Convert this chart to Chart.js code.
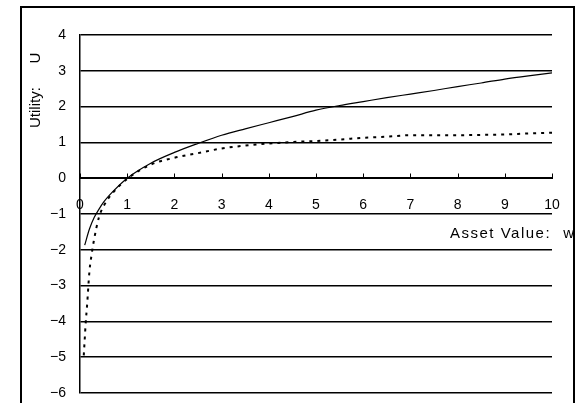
<!DOCTYPE html>
<html>
<head>
<meta charset="utf-8">
<script src="https://cdn.jsdelivr.net/npm/chart.js@4"></script>
<style>
  html, body { margin: 0; padding: 0; background: #fff; }
  #wrap { width: 583px; height: 403px; }
</style>
</head>
<body>
<div id="wrap"><canvas id="utilityChart" width="583" height="403"></canvas></div>
<script>
// Asset value w and utility readings for the two curves
const wSolid = [0.1, 0.2, 0.3, 0.4, 0.5, 0.7, 1, 1.5, 2, 2.5, 3, 3.5, 4, 4.5, 5, 5.5, 6, 6.5, 7, 7.5, 8, 8.5, 9, 9.5, 10];
const uSolid = [-1.87, -1.42, -1.1, -0.87, -0.67, -0.37, 0, 0.42, 0.72, 0.97, 1.2, 1.38, 1.55, 1.72, 1.9, 2.03, 2.14, 2.25, 2.35, 2.45, 2.56, 2.66, 2.77, 2.86, 2.94];

const wDotted = [0.08, 0.1, 0.12, 0.15, 0.2, 0.25, 0.3, 0.4, 0.5, 0.7, 1, 1.5, 2, 2.5, 3, 3.5, 4, 4.5, 5, 5.5, 6, 6.5, 7, 7.5, 8, 8.5, 9, 9.5, 10];
const uDotted = [-4.95, -4.5, -4.05, -3.55, -2.6, -2.1, -1.7, -1.1, -0.78, -0.4, -0.02, 0.38, 0.57, 0.7, 0.83, 0.91, 0.97, 1.01, 1.04, 1.08, 1.13, 1.16, 1.2, 1.2, 1.2, 1.21, 1.22, 1.25, 1.27];

const xTicks = [0, 1, 2, 3, 4, 5, 6, 7, 8, 9, 10];
const yTicks = [-6, -5, -4, -3, -2, -1, 0, 1, 2, 3, 4];

const FONT = '"Liberation Sans", Arial, sans-serif';

const toPoints = (xs, ys) => xs.map((x, i) => ({ x: x, y: ys[i] }));
const fmt = v => (v < 0 ? '\u2212' + Math.abs(v) : String(v));

// frame, upward tick marks on the x axis, axis titles
const excelBits = {
    id: 'excelBits',
    beforeDraw(chart) {
        const c = chart.ctx;
        c.save();
        c.fillStyle = '#fff';
        c.fillRect(0, 0, chart.width, chart.height);
        c.strokeStyle = '#000';
        c.lineWidth = 2;
        c.strokeRect(21, 7, 553, 500);
        c.restore();
    },
    afterDraw(chart) {
        const c = chart.ctx;
        const xs = chart.scales.x, ys = chart.scales.y;
        const y0 = Math.round(ys.getPixelForValue(0)) + 0.5;
        c.save();
        c.strokeStyle = '#000';
        c.lineWidth = 1;
        xTicks.forEach(v => {
            const px = Math.round(xs.getPixelForValue(v)) + 0.5;
            c.beginPath();
            c.moveTo(px, y0);
            c.lineTo(px, y0 - 5);
            c.stroke();
        });

        c.fillStyle = '#000';
        c.font = '15px ' + FONT;
        c.textBaseline = 'middle';
        c.letterSpacing = '1.5px';
        c.textAlign = 'left';
        c.fillText('Asset Value:', 450, y0 + 55);
        c.letterSpacing = '0px';
        c.textAlign = 'right';
        c.fillText('w', 574, y0 + 55);

        c.translate(36, 0);
        c.rotate(-Math.PI / 2);
        c.textAlign = 'left';
        c.fillText('Utility:', -128, 0);
        c.textAlign = 'center';
        c.fillText('U', -58, 0);
        c.restore();
    }
};

const ctx = document.getElementById('utilityChart').getContext('2d');

new Chart(ctx, {
    type: 'line',
    data: {
        datasets: [{
            label: 'solid',
            data: toPoints(wSolid, uSolid),
            borderColor: '#000',
            borderWidth: 1.2,
            pointRadius: 0,
            cubicInterpolationMode: 'monotone',
            fill: false
        }, {
            label: 'dotted',
            data: toPoints(wDotted, uDotted),
            borderColor: '#000',
            borderWidth: 2,
            borderDash: [3, 5],
            pointRadius: 0,
            cubicInterpolationMode: 'monotone',
            fill: false
        }]
    },
    options: {
        responsive: false,
        animation: false,
        layout: { padding: { left: 0, top: 35, right: 31, bottom: 10 } },
        plugins: { legend: { display: false }, tooltip: { enabled: false } },
        scales: {
            x: {
                type: 'linear',
                position: { y: 0 },
                min: 0,
                max: 10,
                afterBuildTicks: s => { s.ticks = xTicks.map(v => ({ value: v })); },
                grid: { display: false, drawTicks: false },
                border: { display: true, color: '#000', width: 1 },
                ticks: {
                    color: '#000',
                    font: { family: FONT, size: 14 },
                    padding: 19,
                    maxRotation: 0,
                    callback: v => fmt(v)
                }
            },
            y: {
                min: -6,
                max: 4,
                afterBuildTicks: s => { s.ticks = yTicks.map(v => ({ value: v })); },
                // fixed axis width; drop the extra label padding so the -6 line sits low
                afterFit: s => { s.width = 80; s.paddingTop = 8; s.paddingBottom = 8; },
                grid: { color: '#000', lineWidth: 1.5, drawTicks: false },
                border: { display: true, color: '#000', width: 1.5 },
                ticks: {
                    color: '#000',
                    font: { family: FONT, size: 14 },
                    padding: 14,
                    callback: v => fmt(v)
                }
            }
        }
    },
    plugins: [excelBits]
});
</script>
</body>
</html>
